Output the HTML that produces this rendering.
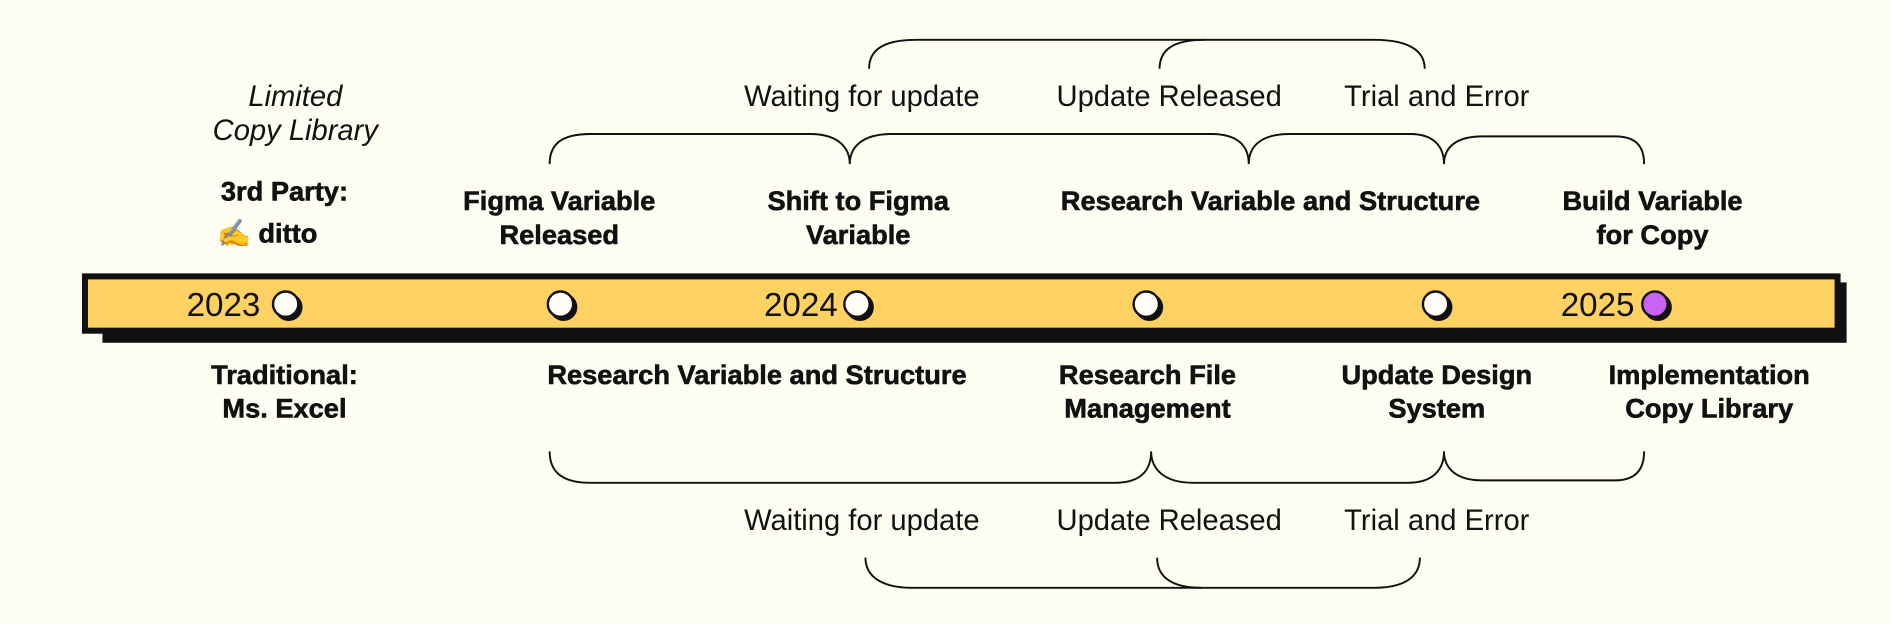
<!DOCTYPE html>
<html><head><meta charset="utf-8"><style>
html,body{margin:0;padding:0;background:#fefdf2;}
svg{display:block}
.b{font-family:"Liberation Sans",sans-serif;font-weight:bold;font-size:22.6px;fill:#111;stroke:#111;stroke-width:0.5;text-anchor:middle}
.g{font-family:"Liberation Sans",sans-serif;font-size:24.2px;fill:#111;text-anchor:middle}
.y{font-family:"Liberation Sans",sans-serif;font-size:27.5px;fill:#111;text-anchor:end}
</style></head><body>
<svg width="1890" height="624" viewBox="0 0 1568 517" preserveAspectRatio="none" xmlns="http://www.w3.org/2000/svg">
<rect width="1568" height="517" fill="#fefdf2"/>
<g fill="none" stroke="#111" stroke-width="1.6">
<path d="M721,57 C721,40 735,33 760,33 L1140,33 C1165,33 1182,40 1182,57"/>
<path d="M962,57 C962,40 975,33 1000,33"/>
<path d="M456,136 C456,120 465,111 490,111 L672,111 C695,111 705,122 705,136 C705,122 715,111 740,111 L1005,111 C1028,111 1036,122 1036,136 C1036,122 1045,111 1070,111 L1170,111 C1190,111 1198,122 1198,136 C1198,122 1208,113 1230,113 L1340,113 C1358,113 1364,122 1364,136"/>
<path d="M456,374 C456,390 465,400 490,400 L925,400 C948,400 955,388 955,374 C955,388 965,400 990,400 L1168,400 C1190,400 1198,388 1198,374 C1198,388 1208,398 1230,398 L1340,398 C1358,398 1364,388 1364,374"/>
<path d="M718,462 C718,478 732,487 757,487 L1140,487 C1165,487 1178,478 1178,462"/>
<path d="M960,462 C960,478 972,487 997,487"/>
</g>
<rect x="85" y="234" width="1447" height="50" fill="#111"/>
<rect x="70.5" y="229" width="1454" height="45" fill="#fdd162" stroke="#111" stroke-width="5"/>
<g stroke="#111" stroke-width="2">
<g fill="#111" stroke="none">
<circle cx="239.5" cy="254.5" r="11.5"/><circle cx="467.5" cy="254.5" r="11.5"/><circle cx="713.5" cy="254.5" r="11.5"/><circle cx="953.5" cy="254.5" r="11.5"/><circle cx="1193.5" cy="254.5" r="11.5"/><circle cx="1375.5" cy="254.5" r="11.5"/>
</g>
<circle cx="237" cy="252" r="10.5" fill="#fffdf5"/>
<circle cx="465" cy="252" r="10.5" fill="#fffdf5"/>
<circle cx="711" cy="252" r="10.5" fill="#fffdf5"/>
<circle cx="951" cy="252" r="10.5" fill="#fffdf5"/>
<circle cx="1191" cy="252" r="10.5" fill="#fffdf5"/>
<circle cx="1373" cy="252" r="10.5" fill="#c964f2"/>
</g>
<text class="y" x="216" y="262">2023</text>
<text class="y" x="695" y="262">2024</text>
<text class="y" x="1356" y="262">2025</text>
<text class="g" x="245" y="88" font-style="italic">Limited</text>
<text class="g" x="245" y="116" font-style="italic">Copy Library</text>
<text class="b" x="236" y="166">3rd Party:</text>
<text class="b" x="180" y="201" style="text-anchor:start">✍️ ditto</text>
<text class="b" x="464" y="174">Figma Variable</text>
<text class="b" x="464" y="202">Released</text>
<text class="b" x="712" y="174">Shift to Figma</text>
<text class="b" x="712" y="202">Variable</text>
<text class="b" x="1054" y="174">Research Variable and Structure</text>
<text class="b" x="1371" y="174">Build Variable</text>
<text class="b" x="1371" y="202">for Copy</text>
<text class="g" x="715" y="88">Waiting for update</text>
<text class="g" x="970" y="88">Update Released</text>
<text class="g" x="1192" y="88">Trial and Error</text>
<text class="b" x="236" y="318">Traditional:</text>
<text class="b" x="236" y="346">Ms. Excel</text>
<text class="b" x="628" y="318">Research Variable and Structure</text>
<text class="b" x="952" y="318">Research File</text>
<text class="b" x="952" y="346">Management</text>
<text class="b" x="1192" y="318">Update Design</text>
<text class="b" x="1192" y="346">System</text>
<text class="b" x="1418" y="318">Implementation</text>
<text class="b" x="1418" y="346">Copy Library</text>
<text class="g" x="715" y="439">Waiting for update</text>
<text class="g" x="970" y="439">Update Released</text>
<text class="g" x="1192" y="439">Trial and Error</text>
</svg>
</body></html>
